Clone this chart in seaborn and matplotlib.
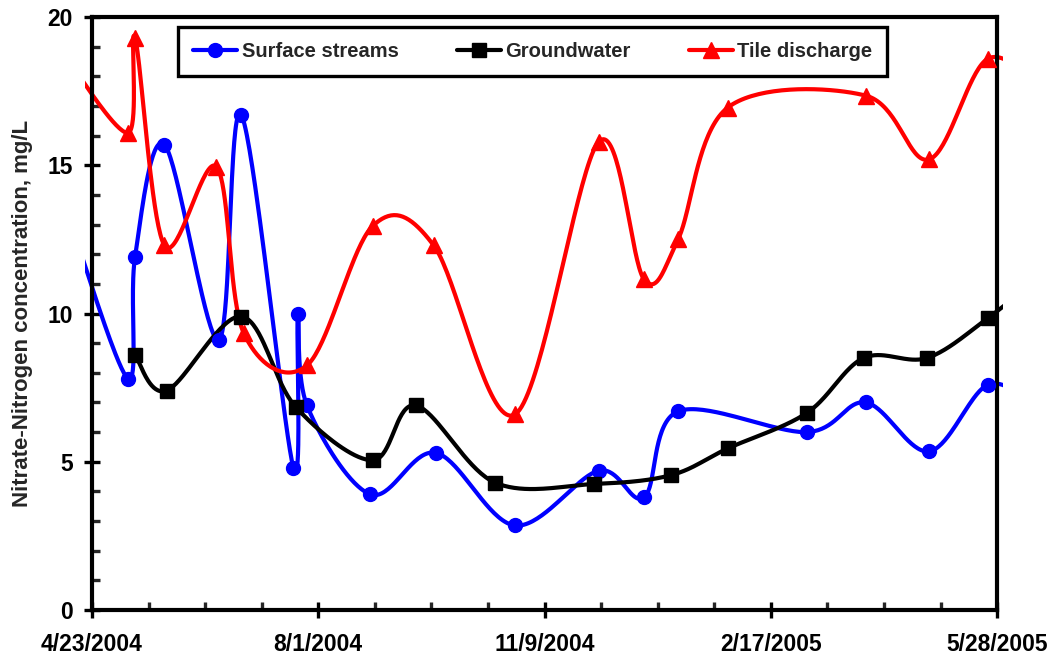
import numpy as np
import pandas as pd
import matplotlib
matplotlib.use("Agg")
import matplotlib.pyplot as plt
import matplotlib.dates as mdates
from matplotlib.lines import Line2D
from matplotlib.patches import Rectangle
import seaborn as sns

# Sampling dates and nitrate-N values (mg/L).
# First/last entries of some series sit just outside the date window,
# they only give the direction the curve leaves the plot.
surface_dates = ["2004-04-13", "2004-05-09", "2004-05-12", "2004-05-25", "2004-06-18",
                 "2004-06-28", "2004-07-21", "2004-07-23", "2004-07-27", "2004-08-24",
                 "2004-09-22", "2004-10-27", "2004-12-03", "2004-12-23", "2005-01-07",
                 "2005-03-05", "2005-03-31", "2005-04-28", "2005-05-24", "2005-06-15"]
surface_vals = [13.2, 7.8, 11.9, 15.7, 9.1, 16.7, 4.8, 10.0, 6.9, 3.9,
                5.3, 2.85, 4.7, 3.8, 6.7, 6.0, 7.0, 5.35, 7.6, 6.8]

ground_dates = ["2004-05-12", "2004-05-26", "2004-06-28", "2004-07-22", "2004-08-25",
                "2004-09-13", "2004-10-18", "2004-12-01", "2005-01-04", "2005-01-29",
                "2005-03-05", "2005-03-30", "2005-04-27", "2005-05-24", "2005-06-15"]
ground_vals = [8.6, 7.4, 9.9, 6.85, 5.05, 6.9, 4.3, 4.25, 4.55, 5.45,
               6.65, 8.5, 8.5, 9.85, 11.2]

tile_dates = ["2004-04-11", "2004-05-09", "2004-05-12", "2004-05-25", "2004-06-17",
              "2004-06-29", "2004-07-27", "2004-08-25", "2004-09-21", "2004-10-27",
              "2004-12-03", "2004-12-23", "2005-01-07", "2005-01-29", "2005-03-31",
              "2005-04-28", "2005-05-24", "2005-06-20"]
tile_vals = [18.7, 16.1, 19.3, 12.3, 14.95, 9.35, 8.25, 12.95, 12.3, 6.6,
             15.8, 11.15, 12.5, 16.95, 17.35, 15.2, 18.6, 17.3]

series_names = ["Surface streams", "Groundwater", "Tile discharge"]
series_colors = ["#0000ff", "#000000", "#ff0000"]
series_markers = ["o", "s", "^"]

start = pd.Timestamp("2004-04-23")
end = pd.Timestamp("2005-05-28")


def smooth(x, y, n=40):
    # Excel-style smoothed line (cubic Bezier through points)
    P = np.column_stack([x, y])
    out = []
    for i in range(len(P) - 1):
        p0 = P[i - 1] if i > 0 else P[i]
        p1, p2 = P[i], P[i + 1]
        p3 = P[i + 2] if i + 2 < len(P) else P[i + 1]
        c1 = p1 + (p2 - p0) / 6
        c2 = p2 - (p3 - p1) / 6
        t = np.linspace(0, 1, n)[:, None]
        seg = (1 - t) ** 3 * p1 + 3 * (1 - t) ** 2 * t * c1 + 3 * (1 - t) * t ** 2 * c2 + t ** 3 * p2
        out.append(seg if i == 0 else seg[1:])
    return np.vstack(out)


sns.set_theme(style="ticks")
plt.rcParams["font.family"] = ["Liberation Sans", "DejaVu Sans"]
plt.rcParams["font.weight"] = "bold"

fig = plt.figure(figsize=(10.54, 6.58), dpi=100)
ax = fig.add_axes([0.0873, 0.073, 0.8587, 0.901])

clip = Rectangle((-0.008, -0.02), 1.015, 1.04, transform=ax.transAxes)

all_data = [(surface_dates, surface_vals), (ground_dates, ground_vals), (tile_dates, tile_vals)]
x0 = mdates.date2num(start)
x1 = mdates.date2num(end)
handles = []
for (dates, vals), name, col, mk in zip(all_data, series_names, series_colors, series_markers):
    xs = mdates.date2num(pd.to_datetime(dates))
    ys = np.array(vals, dtype=float)
    curve = smooth(xs, ys)
    df = pd.DataFrame({"x": curve[:, 0], "y": curve[:, 1]})
    sns.lineplot(data=df, x="x", y="y", sort=False, estimator=None, color=col,
                 linewidth=3.0, ax=ax)
    ax.lines[-1].set_clip_path(clip)
    inside = (xs >= x0) & (xs <= x1)
    ms = 11 if mk == "^" else 10
    ax.plot(xs[inside], ys[inside], ls="none", marker=mk, markersize=ms,
            color=col, markeredgecolor=col, clip_on=False, zorder=3)
    handles.append(Line2D([], [], color=col, lw=3.0, marker=mk, markersize=ms,
                          markeredgecolor=col, label=name))

ax.set_xlim(x0, x1)
ax.set_ylim(0, 20)

major = [x0 + 100 * k for k in range(5)]
minor = [x0 + 25 * k for k in range(17)]
ax.set_xticks(major)
ax.set_xticks(minor, minor=True)
ax.set_xticklabels([f"{d.month}/{d.day}/{d.year}" for d in mdates.num2date(major)])
ax.set_yticks([0, 5, 10, 15, 20])
ax.set_yticks(range(21), minor=True)

for s in ax.spines.values():
    s.set_linewidth(3.0)
    s.set_color("black")

ax.tick_params(axis="x", which="major", direction="inout", length=12, width=2.4,
               pad=10.5, labelsize=16.5, colors="black")
ax.tick_params(axis="x", which="minor", direction="in", length=6, width=2.4)
ax.tick_params(axis="y", which="major", direction="inout", length=12, width=2.4,
               pad=8, labelsize=16.5, colors="black")
ax.tick_params(axis="y", which="minor", direction="in", length=6, width=2.4)
for lab in ax.get_xticklabels() + ax.get_yticklabels():
    lab.set_fontweight("bold")

ax.set_xlabel("")
ax.set_ylabel("Nitrate-Nitrogen concentration, mg/L", fontsize=16, fontweight="bold",
              labelpad=10)

leg = ax.legend(handles=handles, loc="upper center", bbox_to_anchor=(0.487, 0.983),
                borderaxespad=0, ncol=3, frameon=True, fancybox=False, handlelength=2.2,
                handletextpad=0.2, columnspacing=2.9, borderpad=0.75, framealpha=1,
                prop={"weight": "bold", "size": 14.5})
leg.get_frame().set_edgecolor("black")
leg.get_frame().set_linewidth(2.4)

fig.savefig("out.png", dpi=100)
